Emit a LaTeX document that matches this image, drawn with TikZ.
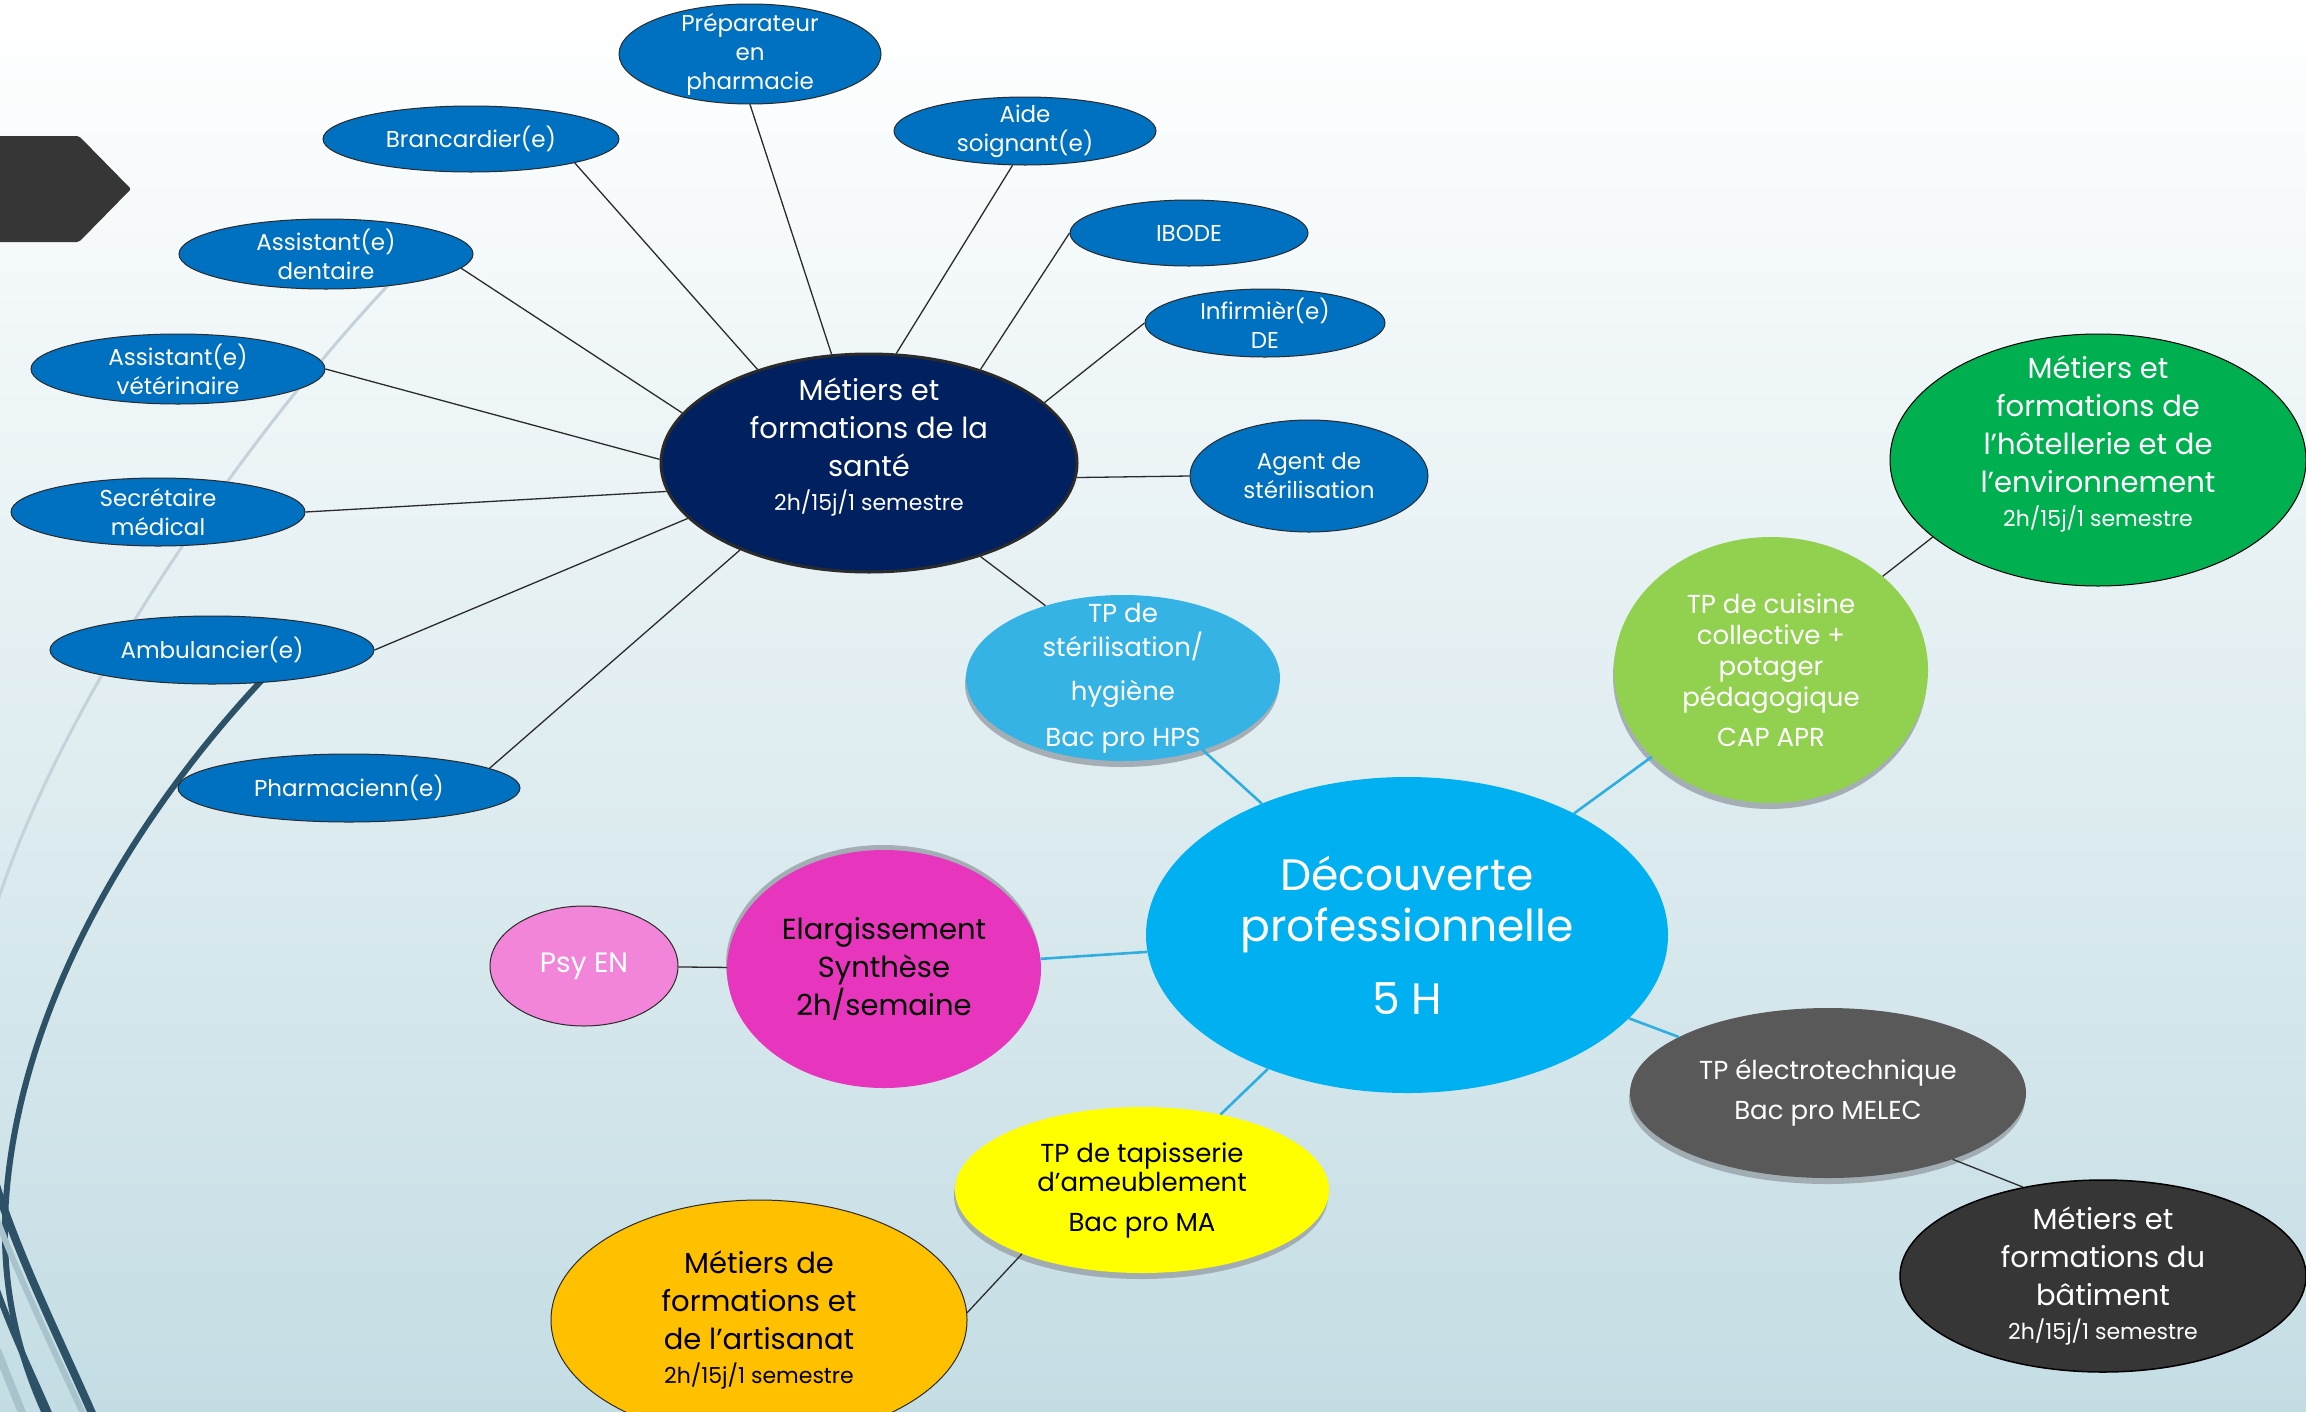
\documentclass[tikz,border=0pt]{standalone}
\usepackage{fontspec}
\setmainfont{Poppins}
\usetikzlibrary{shapes.geometric,shadows}
\definecolor{bleu}{HTML}{0070C0}
\definecolor{marine}{HTML}{002060}
\definecolor{ciel}{HTML}{00B0F0}
\definecolor{cielclair}{HTML}{35B3E5}
\definecolor{vertclair}{HTML}{92D050}
\definecolor{vert}{HTML}{00B050}
\definecolor{grisf}{HTML}{595959}
\definecolor{anthra}{HTML}{363636}
\definecolor{jaune}{HTML}{FFFF00}
\definecolor{ambre}{HTML}{FFC000}
\definecolor{fuchsia}{HTML}{E835BD}
\definecolor{rose}{HTML}{F285D9}
\definecolor{lien}{HTML}{2FAEE0}
\definecolor{trait}{HTML}{2B2B2B}
\definecolor{ombre}{HTML}{9EA8AE}
\definecolor{courbe}{HTML}{2D5268}
\definecolor{courbeclair}{HTML}{A9C3CC}
\definecolor{filclair}{HTML}{C5D2D9}
\definecolor{fondmil}{HTML}{E6F0F3}
\definecolor{fondbas}{HTML}{C4DDE4}
\newcommand\fpetit{\fontsize{23}{29}\selectfont}
\newcommand\fmoyen{\fontsize{29}{38}\selectfont}
\newcommand\fsous{\fontsize{22}{26}\selectfont}
\newcommand\ftp{\fontsize{26}{31}\selectfont}
\newcommand\fgrand{\fontsize{44}{51}\selectfont}
\begin{document}
\begin{tikzpicture}[x=1pt, y=-1pt,
  bulle/.style={ellipse, inner xsep=-10pt, inner ysep=-60pt, align=center},
  metier/.style={bulle, draw=trait, line width=1pt, fill=bleu, text=white, font=\fpetit},
  pole/.style={bulle, text=white, font=\fmoyen},
  tp/.style={bulle, text=white, font=\ftp, drop shadow={shadow xshift=-1pt, shadow yshift=-6pt, fill=ombre, opacity=.9}},
  fil/.style={draw=trait, line width=1.3pt},
  lien/.style={draw=lien, line width=2.6pt}]
    \useasboundingbox (0,0) rectangle (2306,1411);
    \clip (0,0) rectangle (2306,1411);
    \shade[top color=white, middle color=fondmil, bottom color=fondbas] (0,0) rectangle (2306,1411);
    \draw[filclair, line width=3pt] (395,278) .. controls (250,430) and (60,700) .. (-5,910);
    \draw[courbe, line width=6pt] (262,680) .. controls (140,810) and (20,1000) .. (6,1200) .. controls (0,1290) and (20,1360) .. (48,1420);
    \draw[courbeclair, line width=6pt] (-10,1200) .. controls (14,1268) and (52,1346) .. (86,1420);
    \draw[courbe, line width=8pt] (-4,1185) .. controls (20,1260) and (60,1340) .. (95,1420);
    \draw[courbe, line width=6pt] (-3,1290) .. controls (15,1340) and (35,1380) .. (52,1420);
    \draw[courbeclair, line width=8pt] (-3,1350) -- (25,1420);
    \fill[anthra, rounded corners=2pt] (-5,136) -- (79,136) -- (131,189) -- (79,242) -- (-5,242) -- cycle;

    \node[metier, minimum width=262pt, minimum height=100pt] (prep) at (750,54) {Préparateur\\en\\pharmacie};
    \node[metier, minimum width=262pt, minimum height=68pt] (aide) at (1025,131) {Aide\\soignant(e)};
    \node[metier, minimum width=238pt, minimum height=66pt] (ibode) at (1189,233) {IBODE};
    \node[metier, minimum width=240pt, minimum height=68pt] (infirm) at (1265,323) {Infirmièr(e)\\DE};
    \node[metier, minimum width=238pt, minimum height=112pt] (agent) at (1309,476) {Agent de\\stérilisation};
    \node[metier, minimum width=296pt, minimum height=66pt] (brancard) at (471,139) {Brancardier(e)};
    \node[metier, minimum width=294pt, minimum height=70pt] (dentaire) at (326,254) {Assistant(e)\\dentaire};
    \node[metier, minimum width=294pt, minimum height=70pt] (veto) at (178,369) {Assistant(e)\\vétérinaire};
    \node[metier, minimum width=294pt, minimum height=68pt] (secret) at (158,512) {Secrétaire\\médical};
    \node[metier, minimum width=324pt, minimum height=68pt] (ambu) at (212,650) {Ambulancier(e)};
    \node[metier, minimum width=342pt, minimum height=68pt] (pharma) at (349,788) {Pharmacienn(e)};
    \node[pole, draw=trait, line width=3pt, fill=marine, minimum width=416pt, minimum height=218pt] (sante) at (869,463)
        {Métiers et\\formations de la\\santé\\[-4pt]{\fsous 2h/15j/1 semestre}\\\mbox{}};

    \node[tp, fill=cielclair, minimum width=314pt, minimum height=166pt] (steri) at (1123,678)
        {TP de\\[3pt]stérilisation/\\[13pt]hygiène\\[15pt]Bac pro HPS};
    \node[tp, fill=vertclair, minimum width=314pt, minimum height=266pt] (cuisine) at (1771,670)
        {TP de cuisine\\collective +\\potager\\pédagogique\\[9pt]CAP APR};
    \node[pole, draw=black, line width=1pt, fill=vert, minimum width=416pt, minimum height=252pt] (hotel) at (2098,460)
        {Métiers et\\formations de\\l’hôtellerie et de\\l’environnement\\[-4pt]{\fsous 2h/15j/1 semestre}\\\mbox{}};
    \node[bulle, fill=ciel, text=white, font=\fgrand, minimum width=522pt, minimum height=316pt] (decouv) at (1407,935)
        {Découverte\\professionnelle\\[22pt]5 H};
    \node[bulle, fill=fuchsia, font=\fmoyen, minimum width=314pt, minimum height=238pt,
        drop shadow={shadow xshift=-1pt, shadow yshift=5pt, fill=ombre, opacity=.9}] (elarg) at (884,969)
        {Elargissement\\Synthèse\\2h/semaine};
    \node[bulle, draw=trait, line width=1pt, fill=rose, text=white, font=\fontsize{28}{34}\selectfont,
        minimum width=188pt, minimum height=120pt] (psy) at (584,966) {Psy EN};
    \node[tp, fill=grisf, minimum width=396pt, minimum height=170pt] (electro) at (1828,1093)
        {TP électrotechnique\\[9pt]Bac pro MELEC};
    \node[pole, draw=black, line width=1.5pt, fill=anthra, minimum width=406pt, minimum height=192pt] (bat) at (2103,1276)
        {Métiers et\\formations du\\bâtiment\\[-4pt]{\fsous 2h/15j/1 semestre}};
    \node[tp, fill=jaune, text=black, minimum width=374pt, minimum height=166pt] (tapis) at (1142,1190)
        {TP de tapisserie\\[-2pt]d’ameublement\\[9pt]Bac pro MA};
    \node[pole, draw=trait, line width=1pt, fill=ambre, text=black, minimum width=416pt, minimum height=240pt] (artis) at (759,1320)
        {Métiers de\\formations et\\de l’artisanat\\[-4pt]{\fsous 2h/15j/1 semestre}};

    \draw[fil] (sante.140) -- (brancard.-13);
    \draw[fil] (sante.165) -- (dentaire.-6);
    \draw[fil] (sante.179) -- (veto.east);
    \draw[fil] (sante.188) -- (secret.east);
    \draw[fil] (sante.197) -- (ambu.east);
    \draw[fil] (sante.214) -- (pharma.8);
    \draw[fil] (sante.109) -- (prep.south);
    \draw[fil] (sante.76) -- (aide.250);
    \draw[fil] (sante.40) -- (ibode.west);
    \draw[fil] (sante.19) -- (infirm.west);
    \draw[fil] (sante.-4) -- (agent.west);
    \draw[fil] (sante.-40) -- (steri.137);
    \draw[fil] (cuisine.40) -- (hotel.205);
    \draw[fil] (tapis.208) -- (artis.2);
    \draw[fil] (electro.-28) -- (bat.132);
    \draw[fil] (psy) -- (elarg);
    \foreach \n in {steri,cuisine,elarg,tapis,electro}
        \draw[lien] (decouv) -- (\n);
\end{tikzpicture}
\end{document}
